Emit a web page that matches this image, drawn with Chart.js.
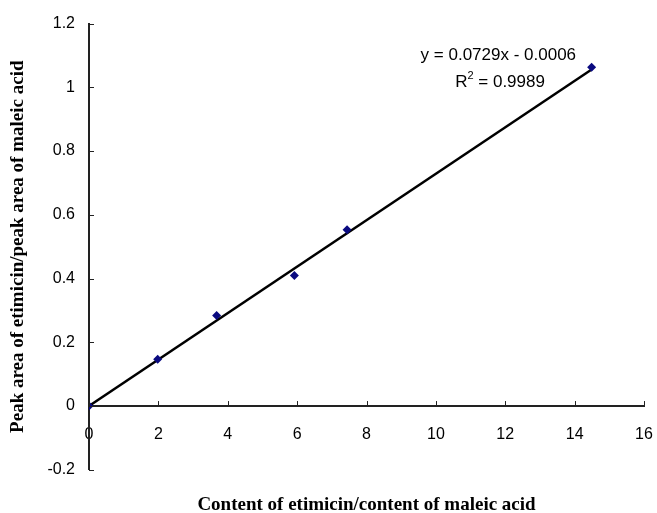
<!DOCTYPE html>
<html>
<head>
<meta charset="utf-8">
<script src="https://cdn.jsdelivr.net/npm/chart.js@4"></script>
<style>
  body { margin: 0; background: #fff; }
  #chart { display: block; }
</style>
</head>
<body>
<canvas id="chart" width="657" height="513"></canvas>
<script>
// measured points (content ratio vs peak area ratio)
const contentRatio = [0, 1.98, 3.68, 5.92, 7.44, 14.49];
const peakRatio = [0, 0.147, 0.284, 0.41, 0.553, 1.063];

// linear trendline end points as drawn
const trendX = [0, 14.49];
const trendY = [0, 1.056];

const xTicks = [0, 2, 4, 6, 8, 10, 12, 14, 16];
const yTicks = [-0.2, 0, 0.2, 0.4, 0.6, 0.8, 1, 1.2];

const equationText = 'y = 0.0729x - 0.0006';
const r2Text = '0.9989';

const tickFont = { family: 'Liberation Sans, Arial, sans-serif', size: 16 };
const titleFont = { family: 'Liberation Serif, Times New Roman, serif', size: 19, weight: 'bold' };
const labelFont = 'Liberation Sans, Arial, sans-serif';

// ticks pointing into the plot, like the original
const innerTicks = {
    id: 'innerTicks',
    afterDatasetsDraw(chart) {
        const ctx = chart.ctx;
        const xs = chart.scales.x;
        const ys = chart.scales.y;
        const x0 = xs.getPixelForValue(0);
        const y0 = ys.getPixelForValue(0);
        ctx.save();
        ctx.strokeStyle = '#222';
        ctx.lineWidth = 1;
        yTicks.forEach(v => {
            const py = Math.round(ys.getPixelForValue(v)) + 0.5;
            ctx.beginPath();
            ctx.moveTo(x0, py);
            ctx.lineTo(x0 + 5, py);
            ctx.stroke();
        });
        xTicks.forEach(v => {
            const px = Math.round(xs.getPixelForValue(v)) + 0.5;
            ctx.beginPath();
            ctx.moveTo(px, y0);
            ctx.lineTo(px, y0 - 5);
            ctx.stroke();
        });
        ctx.restore();
    }
};

// regression equation label
const equationLabel = {
    id: 'equationLabel',
    afterDraw(chart) {
        const ctx = chart.ctx;
        const xs = chart.scales.x;
        const ys = chart.scales.y;
        ctx.save();
        ctx.fillStyle = '#000';
        ctx.font = '17px ' + labelFont;
        ctx.textBaseline = 'middle';
        ctx.textAlign = 'center';
        ctx.fillText(equationText, xs.getPixelForValue(11.8), ys.getPixelForValue(1.1));

        // R² with a small superscript
        const cx = xs.getPixelForValue(11.85);
        const cy = ys.getPixelForValue(1.015);
        const rest = ' = ' + r2Text;
        const wR = ctx.measureText('R').width;
        ctx.font = '11px ' + labelFont;
        const wSup = ctx.measureText('2').width;
        ctx.font = '17px ' + labelFont;
        const wRest = ctx.measureText(rest).width;
        let start = cx - (wR + wSup + wRest) / 2;
        ctx.textAlign = 'left';
        ctx.fillText('R', start, cy);
        ctx.font = '11px ' + labelFont;
        ctx.fillText('2', start + wR, cy - 7);
        ctx.font = '17px ' + labelFont;
        ctx.fillText(rest, start + wR + wSup, cy);
        ctx.restore();
    }
};

const ctx = document.getElementById('chart').getContext('2d');
new Chart(ctx, {
    type: 'scatter',
    data: {
        datasets: [{
            label: 'Data',
            data: contentRatio.map((x, i) => ({ x: x, y: peakRatio[i] })),
            pointStyle: 'rectRot',
            pointRadius: 4.5,
            backgroundColor: '#0a0a80',
            borderColor: '#0a0a80',
            borderWidth: 0,
            order: 1
        }, {
            type: 'line',
            label: 'Linear',
            data: trendX.map((x, i) => ({ x: x, y: trendY[i] })),
            borderColor: '#000',
            borderWidth: 2.5,
            pointRadius: 0,
            fill: false,
            order: 2
        }]
    },
    options: {
        responsive: false,
        animation: false,
        layout: { padding: { top: 16, right: 13, left: 0, bottom: 0 } },
        plugins: {
            legend: { display: false },
            tooltip: { enabled: false },
            title: {
                display: true,
                text: 'Content of etimicin/content of maleic acid',
                position: 'bottom',
                fullSize: false,
                color: '#000',
                font: Object.assign({ lineHeight: 0.8 }, titleFont),
                padding: { top: 28, bottom: 0 }
            }
        },
        scales: {
            x: {
                type: 'linear',
                position: { y: 0 },
                min: 0,
                max: 16,
                afterBuildTicks(scale) { scale.ticks = xTicks.map(v => ({ value: v })); },
                afterFit(scale) {
                    scale.height = 0;
                    scale.paddingLeft = 0;
                    scale.paddingRight = 0;
                },
                grid: { display: false, drawTicks: false },
                border: { display: true, color: '#222', width: 2 },
                ticks: { color: '#000', font: tickFont, padding: 19, maxRotation: 0 }
            },
            y: {
                type: 'linear',
                position: 'left',
                min: -0.2,
                max: 1.2,
                afterBuildTicks(scale) { scale.ticks = yTicks.map(v => ({ value: v })); },
                afterFit(scale) { scale.width = 89; },
                grid: { display: false, drawTicks: false },
                border: { display: true, color: '#222', width: 2 },
                ticks: {
                    color: '#000',
                    font: tickFont,
                    padding: 14,
                    callback: v => String(Math.round(v * 10) / 10)
                },
                title: {
                    display: true,
                    text: 'Peak area of etimicin/peak area of maleic acid',
                    color: '#000',
                    font: titleFont,
                    padding: { top: 7, bottom: 0 }
                }
            }
        }
    },
    plugins: [innerTicks, equationLabel]
});
</script>
</body>
</html>
